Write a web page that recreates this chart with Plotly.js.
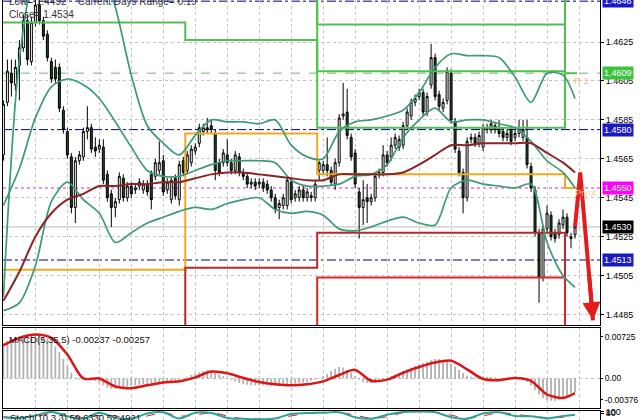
<!DOCTYPE html>
<html><head><meta charset="utf-8">
<script src="https://cdn.plot.ly/plotly-3.0.1.min.js"></script>
<style>html,body{margin:0;padding:0;background:#fff}#chart{width:640px;height:420px}</style>
</head><body><div id="chart"></div>
<script>
// ---------- price bars (OHLC) ----------
const open = [
1.4567,1.4594,1.4609,1.4603,1.4613,1.4622,1.4636,1.4615,1.4635,1.4644,
1.4636,1.4629,1.4615,1.4612,1.4612,1.4590,1.4579,1.4566,1.4540,1.4564,
1.4566,1.4579,1.4581,1.4571,1.4570,1.4571,1.4557,1.4547,1.4540,1.4544,
1.4555,1.4545,1.4551,1.4549,1.4551,1.4549,1.4552,1.4557,1.4556,1.4559,
1.4564,1.4549,1.4544,1.4555,1.4544,1.4564,1.4559,1.4563,1.4569,1.4573,
1.4579,1.4580,1.4582,1.4578,1.4563,1.4563,1.4567,1.4563,1.4559,1.4566,
1.4558,1.4556,1.4552,1.4553,1.4552,1.4553,1.4552,1.4549,1.4545,1.4540,
1.4541,1.4541,1.4553,1.4545,1.4545,1.4549,1.4545,1.4546,1.4545,1.4559,
1.4559,1.4562,1.4559,1.4552,1.4563,1.4587,1.4589,1.4576,1.4568,1.4548,
1.4540,1.4545,1.4543,1.4545,1.4557,1.4558,1.4567,1.4566,1.4572,1.4571,
1.4572,1.4582,1.4587,1.4594,1.4597,1.4599,1.4589,1.4603,1.4617,1.4598,
1.4591,1.4595,1.4609,1.4584,1.4569,1.4558,1.4545,1.4575,1.4576,1.4573,
1.4571,1.4580,1.4580,1.4582,1.4581,1.4579,1.4576,1.4580,1.4576,1.4578,
1.4576,1.4576,1.4561,1.4549,1.4527,1.4504,1.4529,1.4536,1.4527,1.4526,
1.4531,1.4535,1.4524,1.4526];
const high = [
1.4595,1.4616,1.4616,1.4616,1.4626,1.4639,1.4639,1.4638,1.4647,1.4647,
1.4638,1.4631,1.4617,1.4616,1.4614,1.4592,1.4581,1.4568,1.4566,1.4569,
1.4581,1.4592,1.4583,1.4576,1.4575,1.4575,1.4559,1.4549,1.4545,1.4558,
1.4557,1.4553,1.4553,1.4552,1.4555,1.4554,1.4554,1.4559,1.4565,1.4574,
1.4567,1.4555,1.4556,1.4557,1.4564,1.4566,1.4569,1.4572,1.4573,1.4583,
1.4583,1.4586,1.4585,1.4580,1.4565,1.4570,1.4575,1.4565,1.4569,1.4568,
1.4560,1.4558,1.4555,1.4555,1.4555,1.4555,1.4554,1.4551,1.4547,1.4544,
1.4547,1.4556,1.4555,1.4549,1.4551,1.4551,1.4550,1.4548,1.4554,1.4564,
1.4564,1.4576,1.4561,1.4565,1.4588,1.4604,1.4601,1.4578,1.4570,1.4550,
1.4554,1.4552,1.4547,1.4558,1.4560,1.4572,1.4569,1.4576,1.4578,1.4577,
1.4584,1.4591,1.4596,1.4598,1.4601,1.4601,1.4599,1.4624,1.4619,1.4600,
1.4596,1.4612,1.4611,1.4586,1.4571,1.4560,1.4576,1.4578,1.4578,1.4579,
1.4583,1.4583,1.4585,1.4584,1.4585,1.4581,1.4580,1.4582,1.4580,1.4585,
1.4585,1.4585,1.4563,1.4551,1.4529,1.4531,1.4541,1.4538,1.4529,1.4534,
1.4539,1.4537,1.4527,1.4533];
const low = [
1.4564,1.4592,1.4597,1.4600,1.4595,1.4620,1.4613,1.4613,1.4633,1.4634,
1.4626,1.4615,1.4604,1.4604,1.4589,1.4578,1.4565,1.4537,1.4532,1.4562,
1.4564,1.4575,1.4568,1.4566,1.4568,1.4552,1.4543,1.4530,1.4535,1.4542,
1.4543,1.4543,1.4545,1.4547,1.4549,1.4547,1.4546,1.4539,1.4554,1.4557,
1.4546,1.4547,1.4542,1.4544,1.4541,1.4556,1.4557,1.4561,1.4567,1.4571,
1.4577,1.4578,1.4578,1.4554,1.4556,1.4561,1.4561,1.4557,1.4557,1.4556,
1.4554,1.4550,1.4550,1.4549,1.4550,1.4548,1.4547,1.4543,1.4537,1.4534,
1.4539,1.4539,1.4542,1.4543,1.4543,1.4543,1.4543,1.4543,1.4543,1.4554,
1.4557,1.4556,1.4551,1.4549,1.4561,1.4585,1.4575,1.4564,1.4550,1.4524,
1.4531,1.4532,1.4541,1.4543,1.4555,1.4556,1.4561,1.4564,1.4570,1.4569,
1.4570,1.4580,1.4585,1.4592,1.4595,1.4587,1.4587,1.4601,1.4595,1.4590,
1.4589,1.4593,1.4583,1.4568,1.4556,1.4537,1.4543,1.4573,1.4571,1.4571,
1.4569,1.4578,1.4578,1.4578,1.4576,1.4574,1.4574,1.4572,1.4574,1.4576,
1.4574,1.4560,1.4548,1.4525,1.4491,1.4502,1.4527,1.4523,1.4522,1.4524,
1.4529,1.4525,1.4519,1.4524];
const close = [
1.4593,1.4610,1.4604,1.4612,1.4622,1.4636,1.4616,1.4635,1.4644,1.4636,
1.4628,1.4617,1.4606,1.4606,1.4591,1.4580,1.4567,1.4540,1.4564,1.4567,
1.4579,1.4581,1.4570,1.4569,1.4572,1.4554,1.4545,1.4540,1.4543,1.4556,
1.4545,1.4551,1.4547,1.4550,1.4553,1.4552,1.4548,1.4544,1.4563,1.4563,
1.4548,1.4553,1.4554,1.4546,1.4562,1.4558,1.4567,1.4570,1.4571,1.4581,
1.4581,1.4581,1.4580,1.4559,1.4558,1.4568,1.4563,1.4559,1.4567,1.4558,
1.4556,1.4552,1.4553,1.4551,1.4553,1.4550,1.4549,1.4545,1.4539,1.4542,
1.4545,1.4554,1.4544,1.4547,1.4549,1.4545,1.4548,1.4545,1.4552,1.4563,
1.4562,1.4559,1.4553,1.4563,1.4586,1.4588,1.4577,1.4566,1.4552,1.4540,
1.4544,1.4543,1.4545,1.4556,1.4558,1.4567,1.4563,1.4572,1.4576,1.4575,
1.4582,1.4589,1.4594,1.4596,1.4599,1.4589,1.4597,1.4617,1.4597,1.4592,
1.4594,1.4610,1.4585,1.4570,1.4558,1.4545,1.4574,1.4576,1.4573,1.4577,
1.4581,1.4581,1.4583,1.4580,1.4578,1.4576,1.4578,1.4574,1.4578,1.4580,
1.4580,1.4562,1.4550,1.4527,1.4504,1.4529,1.4537,1.4525,1.4524,1.4532,
1.4535,1.4527,1.4525,1.4530];

// ---------- indicators sampled every 4 bars ----------
const sampleBar = [0,4,8,12,16,20,24,28,32,36,40,44,48,52,56,60,64,68,72,76,80,84,88,92,96,100,104,108,112,116,120,124,128,132,136,140,143];
const bandUpper = [1.4494,1.4616,1.4660,1.4667,1.4670,1.4670,1.4667,1.4643,1.4608,1.4582,1.4573,1.4567,1.4577,1.4585,1.4584,1.4584,1.4583,1.4585,1.4572,1.4566,1.4565,1.4579,1.4584,1.4585,1.4587,1.4590,1.4599,1.4612,1.4619,1.4618,1.4618,1.4617,1.4607,1.4594,1.4609,1.4608,1.4596];
const bandMiddle = [1.4541,1.4560,1.4586,1.4602,1.4606,1.4603,1.4596,1.4584,1.4571,1.4559,1.4556,1.4556,1.4559,1.4562,1.4564,1.4564,1.4564,1.4563,1.4554,1.4551,1.4551,1.4552,1.4556,1.4557,1.4562,1.4576,1.4585,1.4591,1.4584,1.4585,1.4585,1.4583,1.4581,1.4574,1.4564,1.4558,1.4550];
const bandLower = [1.4487,1.4491,1.4510,1.4543,1.4553,1.4544,1.4537,1.4522,1.4527,1.4532,1.4535,1.4538,1.4540,1.4539,1.4542,1.4544,1.4545,1.4539,1.4537,1.4538,1.4536,1.4529,1.4528,1.4530,1.4533,1.4535,1.4532,1.4531,1.4550,1.4554,1.4552,1.4551,1.4550,1.4552,1.4522,1.4505,1.4499];
const maSlow = [1.4492,1.4507,1.4525,1.4537,1.4544,1.4547,1.4551,1.4551,1.4552,1.4552,1.4553,1.4553,1.4555,1.4557,1.4558,1.4558,1.4557,1.4556,1.4555,1.4554,1.4554,1.4557,1.4557,1.4557,1.4557,1.4558,1.4562,1.4567,1.4572,1.4572,1.4573,1.4573,1.4573,1.4573,1.4568,1.4563,1.4558];
const macdSignal = [0.0058,0.0071,0.0077,0.0071,0.0042,0.0000,0.0000,-0.0014,-0.0017,-0.0012,-0.0007,-0.0005,0.0002,0.0012,0.0009,0.0001,-0.0006,-0.0010,-0.0012,-0.0010,-0.0005,0.0006,0.0015,-0.0004,-0.0002,0.0010,0.0020,0.0028,0.0031,0.0016,-0.0001,-0.0003,0.0001,-0.0004,-0.0028,-0.0034,-0.00257];
const stochK = [30,20,50,95,40,10,85,20,10,75,90,15,85,80,20,10,5,15,70,80,85,90,30,10,60,95,100,90,30,10,75,90,45,40,15,45,60];
const stochD = [35,25,35,75,65,25,50,45,15,45,85,45,55,85,45,12,8,10,45,75,82,88,55,18,35,85,97,93,55,18,45,85,65,42,25,30,52];

// MACD main (histogram), one per bar
const macdMain = [
0.0062,0.0066,0.0070,0.0072,0.0074,0.0076,0.0077,0.0077,0.0076,0.0075,
0.0073,0.0070,0.0064,0.0056,0.0046,0.0034,0.0022,0.0010,0.0002,-0.0002,
-0.0001,0.0000,-0.0002,-0.0004,-0.0008,-0.0012,-0.0016,-0.0018,-0.0018,-0.0017,
-0.0016,-0.0014,-0.0013,-0.0012,-0.0011,-0.0010,-0.0010,-0.0009,-0.0009,-0.0008,
-0.0008,-0.0006,-0.0005,-0.0004,-0.0002,0.0000,0.0003,0.0006,0.0009,0.0011,
0.0013,0.0014,0.0013,0.0010,0.0007,0.0004,0.0001,-0.0002,-0.0005,-0.0008,
-0.0010,-0.0011,-0.0012,-0.0012,-0.0012,-0.0012,-0.0012,-0.0013,-0.0013,-0.0013,
-0.0012,-0.0011,-0.0010,-0.0009,-0.0008,-0.0007,-0.0006,-0.0004,-0.0002,0.0001,
0.0004,0.0008,0.0013,0.0017,0.0020,0.0019,0.0015,0.0010,0.0004,-0.0002,
-0.0006,-0.0008,-0.0008,-0.0007,-0.0005,-0.0002,0.0001,0.0004,0.0007,0.0010,
0.0013,0.0016,0.0019,0.0022,0.0025,0.0027,0.0029,0.0032,0.0034,0.0034,
0.0032,0.0030,0.0026,0.0021,0.0015,0.0009,0.0005,0.0003,0.0002,0.0002,
0.0003,0.0003,0.0002,0.0002,0.0001,0.0001,0.0000,0.0000,0.0001,0.0001,
0.0000,-0.0006,-0.0012,-0.0020,-0.0028,-0.0034,-0.0038,-0.0039,-0.0039,-0.0037,
-0.0034,-0.0030,-0.0026,-0.00237];

// ---------- daily pivot levels (value per session) ----------
const sessionStart = [-0.5, 45.5, 78.5, 140.5];
const sessionEnd = 143.5;
const pivotP  = [1.4508, 1.4578, 1.4557, 1.4550];
const pivotR1 = [1.4635, 1.4626, 1.4581, 1.4609];
const pivotR2 = [1.4700, 1.4700, 1.4610, 1.4700];
const pivotR3 = [1.4700, 1.4700, 1.4634, 1.4700];
const pivotS1 = [1.4400, 1.4509, 1.4527, 1.4400];
const pivotS2 = [1.4400, 1.4400, 1.4504, 1.4400];

// ---------- horizontal levels & tags ----------
const dashDotLevels = [1.4646, 1.4580, 1.4513];
const r1Level = 1.4609, pivotLevel = 1.4550, bidLevel = 1.4530;
const tagValues = [1.4646, 1.4609, 1.4580, 1.4550, 1.4530, 1.4513];
const tagColors = ['#1a1ac4', '#3cc43c', '#1a1ac4', '#ff00ff', '#000000', '#1a1ac4'];
const priceTicks = [1.4485, 1.4505, 1.4525, 1.4545, 1.4565, 1.4585, 1.4605, 1.4625];
const macdTicks = [0.00725, 0.00, -0.00376];
const macdTickText = ['0.00725', '0.00', '-0.00376'];
const stochTicks = [80, 100];

// forecast arrow drawn on the chart
const forecastBar = [143, 144.3, 147.5];
const forecastPrice = [1.4530, 1.4558, 1.4482];

const bars = open.map((_, i) => i);
const FONT = 'Liberation Sans';

function step(levels, color, width) {
  return {type: 'scatter', mode: 'lines', x: [...sessionStart, sessionEnd], y: [...levels, levels[levels.length - 1]],
    line: {shape: 'hv', color: color, width: width}, hoverinfo: 'skip', xaxis: 'x', yaxis: 'y'};
}
function band(vals, color, width) {
  return {type: 'scatter', mode: 'lines', x: sampleBar, y: vals, line: {shape: 'spline', smoothing: 0.8, color: color, width: width},
    hoverinfo: 'skip', xaxis: 'x', yaxis: 'y'};
}

const traces = [
  step(pivotR3, '#52bf52', 2), step(pivotR2, '#52bf52', 2), step(pivotR1, '#52bf52', 2),
  step(pivotP, '#f4a81d', 2), step(pivotS1, '#b8282c', 2), step(pivotS2, '#d92626', 2),
  band(bandUpper, '#3c9a74', 1.7), band(bandMiddle, '#3c9a74', 1.7), band(bandLower, '#3c9a74', 1.7),
  band(maSlow, '#8b2525', 2),
  {type: 'candlestick', x: bars, open: open, high: high, low: low, close: close, xaxis: 'x', yaxis: 'y',
   increasing: {line: {color: '#000000', width: 1}, fillcolor: '#ffffff'},
   decreasing: {line: {color: '#000000', width: 1}, fillcolor: '#1b4d1b'},
   whiskerwidth: 0, hoverinfo: 'skip'},
  {type: 'scatter', mode: 'lines', x: forecastBar, y: forecastPrice, line: {color: '#e41b1b', width: 4},
   hoverinfo: 'skip', xaxis: 'x', yaxis: 'y'},
  {type: 'bar', x: bars, y: macdMain, marker: {color: '#b0b0b0'}, width: 0.45, xaxis: 'x2', yaxis: 'y2', hoverinfo: 'skip'},
  {type: 'scatter', mode: 'lines', x: sampleBar, y: macdSignal, line: {color: '#dd1515', width: 2.5, shape: 'spline', smoothing: 0.8},
   xaxis: 'x2', yaxis: 'y2', hoverinfo: 'skip'},
  {type: 'scatter', mode: 'lines', x: sampleBar, y: stochD, line: {color: '#d02020', width: 1, dash: 'dash', shape: 'spline'},
   xaxis: 'x3', yaxis: 'y3', hoverinfo: 'skip'},
  {type: 'scatter', mode: 'lines', x: sampleBar, y: stochK, line: {color: '#2aa39a', width: 2, shape: 'spline'},
   xaxis: 'x3', yaxis: 'y3', hoverinfo: 'skip'}
];

const shapes = [];
dashDotLevels.forEach(v => shapes.push({type: 'line', xref: 'x domain', yref: 'y', x0: 0, x1: 1, y0: v, y1: v, layer: 'below',
  line: {color: '#00007a', width: 1, dash: 'dashdot'}}));
shapes.push({type: 'line', xref: 'x domain', yref: 'y', x0: 0, x1: 1, y0: r1Level, y1: r1Level, layer: 'below', line: {color: '#5cc45c', width: 1, dash: 'dash'}});
shapes.push({type: 'line', xref: 'x domain', yref: 'y', x0: 0, x1: 1, y0: pivotLevel, y1: pivotLevel, layer: 'below', line: {color: '#e020e0', width: 1, dash: '3px,3px'}});
shapes.push({type: 'line', xref: 'x domain', yref: 'y', x0: 0, x1: 1, y0: bidLevel, y1: bidLevel, layer: 'below', line: {color: '#bcbcbc', width: 1}});
shapes.push({type: 'line', xref: 'x2 domain', yref: 'y2', x0: 0, x1: 1, y0: 0, y1: 0, layer: 'below', line: {color: '#bdbdbd', width: 1, dash: '3px,3px'}});

const annotations = [];
tagValues.forEach((v, i) => annotations.push({xref: 'paper', yref: 'y', x: 1, y: v, xanchor: 'left', yanchor: 'middle', xshift: 2,
  text: v.toFixed(4), showarrow: false, bgcolor: tagColors[i], borderpad: 1, font: {family: FONT, size: 9, color: '#ffffff'}}));
annotations.push({xref: 'paper', yref: 'paper', x: 0.0067, y: 0.9976, xanchor: 'left', yanchor: 'middle', showarrow: false,
  text: 'Low= 1.4492    Current Days Range= 0.19', font: {family: FONT, size: 10, color: '#333333'}});
annotations.push({xref: 'paper', yref: 'paper', x: 0.0067, y: 0.9643, xanchor: 'left', yanchor: 'middle', showarrow: false,
  text: 'Close= 1.4534', font: {family: FONT, size: 10, color: '#333333'}});
annotations.push({xref: 'paper', yref: 'paper', x: 0.953, y: 0.8095, xanchor: 'left', yanchor: 'middle', showarrow: false,
  text: 'R 1', font: {family: FONT, size: 9.5, color: '#f5c07a'}});
annotations.push({xref: 'paper', yref: 'paper', x: 0.9548, y: 0.5405, xanchor: 'left', yanchor: 'middle', showarrow: false,
  text: 'Pivot', font: {family: FONT, size: 9.5, color: '#f2d49a'}});
annotations.push({xref: 'paper', yref: 'paper', x: 0.0067, y: 0.1905, xanchor: 'left', yanchor: 'middle', showarrow: false,
  text: 'MACD(5,35,5) -0.00237 -0.00257', font: {family: FONT, size: 9.5, color: '#111111'}});
annotations.push({xref: 'paper', yref: 'paper', x: 0.0084, y: 0.0071, xanchor: 'left', yanchor: 'middle', showarrow: false,
  text: 'Stoch(10,3,3) 59.6330 52.4921', font: {family: FONT, size: 9.5, color: '#111111'}});
annotations.push({xref: 'x', yref: 'y', axref: 'x', ayref: 'y', x: forecastBar[2], y: forecastPrice[2],
  ax: forecastBar[1] + (forecastBar[2] - forecastBar[1]) * 0.7, ay: forecastPrice[1] + (forecastPrice[2] - forecastPrice[1]) * 0.7,
  showarrow: true, arrowhead: 2, arrowsize: 0.9, arrowwidth: 4, arrowcolor: '#e41b1b', text: ''});

const xBase = {range: [-0.1, 149.25], showticklabels: false, ticks: '', showgrid: true, gridcolor: '#c4c4c4', griddash: '3px,3px',
  tick0: 0, dtick: 8, showline: true, mirror: true, linecolor: '#000000', linewidth: 1, zeroline: false, fixedrange: true};
const yBase = {side: 'right', showline: true, mirror: true, linecolor: '#000000', linewidth: 1, zeroline: false, ticks: 'outside',
  ticklen: 3, tickcolor: '#000000', tickfont: {family: FONT, size: 9, color: '#000000'}, fixedrange: true};

const layout = {
  width: 640, height: 420, margin: {l: 3, r: 40, t: 0, b: 0}, paper_bgcolor: '#ffffff', plot_bgcolor: '#ffffff',
  showlegend: false, font: {family: FONT, size: 9},
  xaxis: Object.assign({}, xBase, {anchor: 'y', rangeslider: {visible: false}}),
  xaxis2: Object.assign({}, xBase, {anchor: 'y2', matches: 'x'}),
  xaxis3: Object.assign({}, xBase, {anchor: 'y3', matches: 'x'}),
  yaxis: Object.assign({}, yBase, {domain: [0.22619, 1], range: [1.44796, 1.46466], tickvals: priceTicks,
    ticktext: priceTicks.map(v => v.toFixed(4)), showgrid: true, gridcolor: '#c4c4c4', griddash: '3px,3px'}),
  yaxis2: Object.assign({}, yBase, {domain: [0.02857, 0.21905], range: [-0.00516, 0.00882], tickvals: macdTicks, ticktext: macdTickText,
    showgrid: false, ticklen: 2, tickfont: {family: FONT, size: 8.5, color: '#000000'}}),
  yaxis3: Object.assign({}, yBase, {domain: [0, 0.02143], range: [-5, 106], tickvals: stochTicks, ticktext: stochTicks.map(String), showgrid: false}),
  bargap: 0.6, shapes: shapes, annotations: annotations
};

Plotly.newPlot('chart', traces, layout, {staticPlot: true, displayModeBar: false});
</script></body></html>
